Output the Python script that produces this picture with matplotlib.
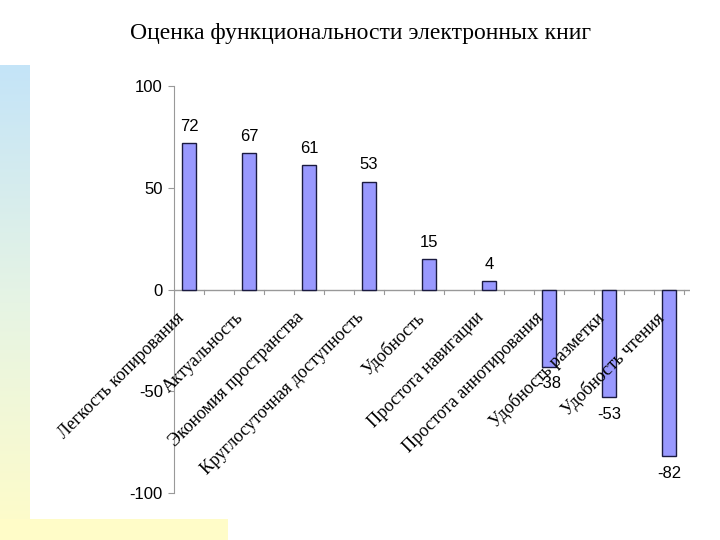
import numpy as np
import matplotlib
matplotlib.use('Agg')
import matplotlib.pyplot as plt
from matplotlib.colors import LinearSegmentedColormap
from matplotlib.patches import Rectangle

title = 'Оценка функциональности электронных книг'
categories = ['Легкость копирования', 'Актуальность', 'Экономия пространства',
              'Круглосуточная доступность', 'Удобность', 'Простота навигации',
              'Простота аннотирования', 'Удобность разметки', 'Удобность чтения']
values = [72, 67, 61, 53, 15, 4, -38, -53, -82]
yticks = [-100, -50, 0, 50, 100]

W, H = 720, 540
fig = plt.figure(figsize=(W / 100, H / 100), dpi=100)
fig.patch.set_facecolor('white')

# decorative background: gradient strip on the left, yellow band at the bottom
cmap = LinearSegmentedColormap.from_list('bg', ['#c4e4f8', '#e6f4e4', '#fffcc8'])
bg = fig.add_axes([0, 0, 30 / W, 475 / H])
bg.imshow(np.linspace(0, 1, 256).reshape(-1, 1), aspect='auto', cmap=cmap)
bg.axis('off')
fig.patches.append(Rectangle((0, 0), 228 / W, 21 / H, transform=fig.transFigure,
                             facecolor='#fffcc8', edgecolor='none', zorder=0))

fig.text(0.5, 1 - 33 / H, title, ha='center', va='center',
         fontsize=17, family='Liberation Serif')

ax = fig.add_axes([174 / W, 1 - 493 / H, 516 / W, 407 / H])
ax.patch.set_alpha(0)
x = np.arange(len(values))
ax.bar(x, values, width=0.22, color='#9999ff', edgecolor='#1a1a40', linewidth=1, zorder=3)

ax.set_xlim(-0.25, 8.35)
ax.set_ylim(-100, 100)
ax.set_yticks(yticks)
ax.set_yticklabels([str(v) for v in yticks], family='Liberation Sans', fontsize=12)
ax.tick_params(axis='y', length=4, color='#999999', pad=4)

for s in ['top', 'right', 'bottom']:
    ax.spines[s].set_visible(False)
ax.spines['left'].set_color('#999999')
ax.axhline(0, color='#999999', linewidth=1, zorder=2)
ax.set_xticks([])

# small category tick marks along the zero line
for t in np.arange(-0.25, 8.3, 0.5):
    ax.plot([t, t], [0, -2], color='#999999', linewidth=0.8, zorder=2)

for xi, v in zip(x, values):
    off = 12 if v >= 0 else -12
    ax.annotate(str(v), xy=(xi, v), xytext=(0, off), textcoords='offset points',
                ha='center', va='center', fontsize=12, family='Liberation Sans')

for xi, lab in zip(x, categories):
    ax.annotate(lab, xy=(xi, 0), xytext=(-10, -14), textcoords='offset points',
                rotation=45, ha='right', va='top', rotation_mode='anchor',
                fontsize=13, family='Liberation Serif', zorder=4)

fig.savefig('out.png', dpi=100)
